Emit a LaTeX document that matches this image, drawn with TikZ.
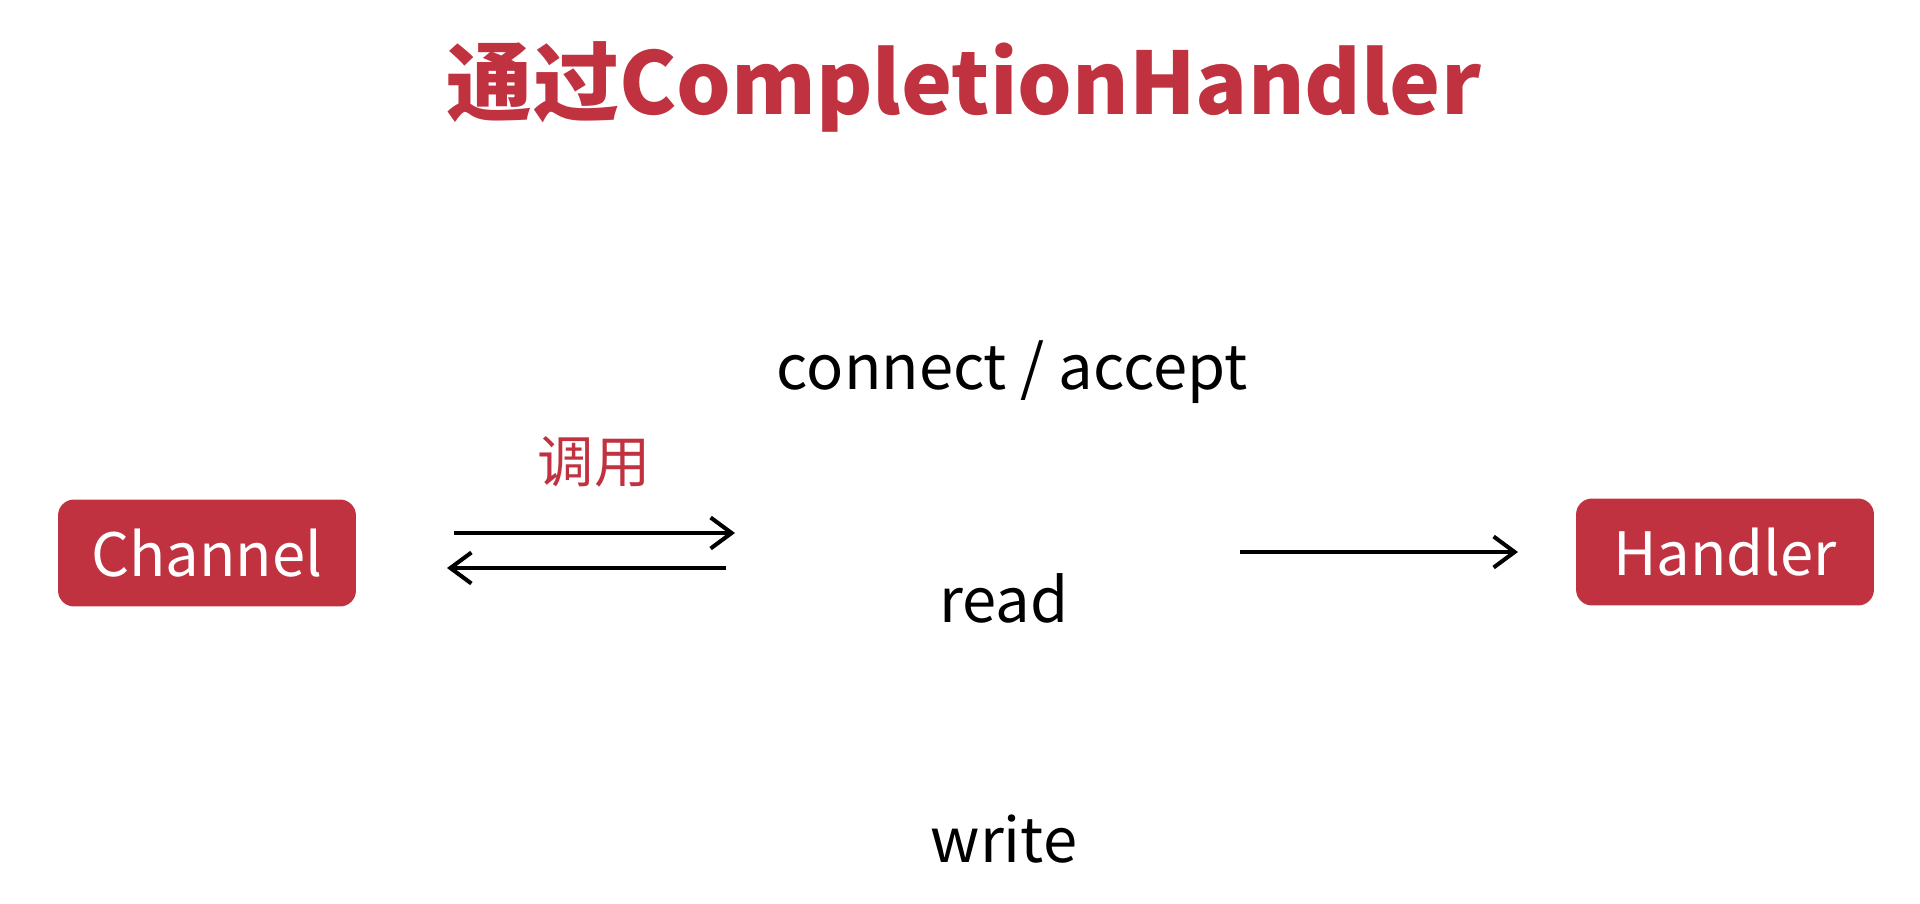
\documentclass[tikz,border=0pt]{standalone}
\usepackage{fontspec}
\setmainfont{Noto Sans CJK SC}
\usetikzlibrary{arrows.meta}
\definecolor{handlerred}{RGB}{192,50,64}

\begin{document}
\begin{tikzpicture}[x=0.02cm,y=-0.02cm,
  box/.style={fill=handlerred,text=white,rounded corners=0.32cm,minimum width=5.96cm,minimum height=2.14cm,font=\fontsize{34}{40}\selectfont},
  word/.style={anchor=base,font=\fontsize{35}{40}\selectfont},
  arr/.style={line width=2.3pt,-{Straight Barb[length=0.42cm,width=0.62cm]}}]
\useasboundingbox (0,0) rectangle (1920,903);
\node[anchor=base,text=handlerred,font=\fontsize{49}{56}\selectfont\bfseries] (title) at (964,114) {通过CompletionHandler};
\node[box] (channel) at (207,553) {Channel};
\node[box] (handler) at (1725,552) {Handler};
\node[text=handlerred,font=\fontsize{32}{36}\selectfont] (call) at (594,462) {调用};
\node[word] (conn) at (1012,389) {connect / accept};
\node[word] (read) at (1004,622) {read};
\node[word] (write) at (1004,862) {write};
\coordinate (callA) at (454,533);
\coordinate (callB) at (735,533);
\coordinate (backA) at (726,568);
\coordinate (backB) at (447,568);
\coordinate (doneA) at (1240,552);
\coordinate (doneB) at (1518,552);
\draw[arr] (callA) -- (callB);
\draw[arr] (backA) -- (backB);
\draw[arr] (doneA) -- (doneB);
\end{tikzpicture}
\end{document}
